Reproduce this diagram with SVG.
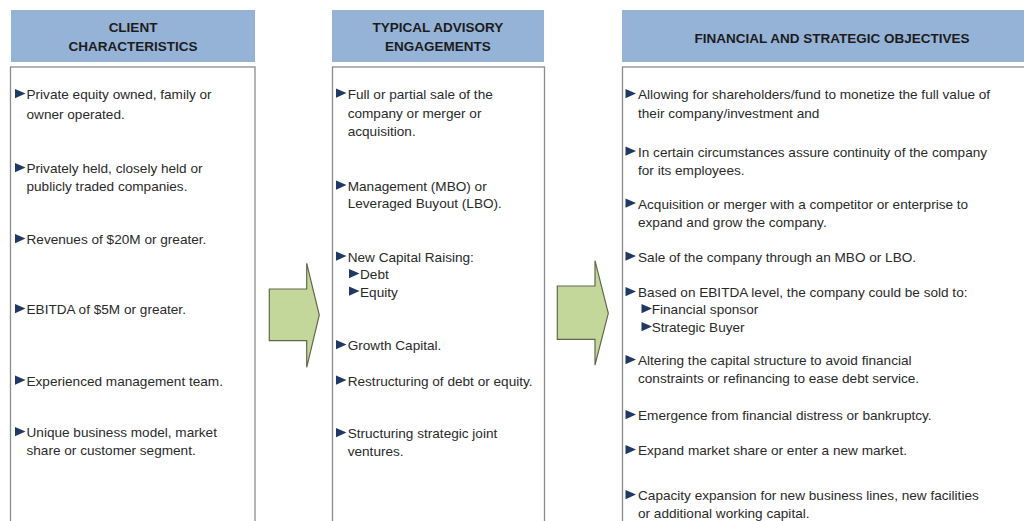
<svg xmlns="http://www.w3.org/2000/svg" xmlns:xlink="http://www.w3.org/1999/xlink" width="1024" height="521" viewBox="0 0 1024 521">
  <style>
    .hdr { fill: #95b3d7; }
    .body { fill: #ffffff; stroke: #8c8c8c; stroke-width: 1.3; }
    .ht { font-family: "Liberation Sans", Arial, sans-serif; font-size: 13.5px; font-weight: bold; fill: #1c1c1c; text-anchor: middle; }
    .t { font-family: "Liberation Sans", Arial, sans-serif; font-size: 13.6px; fill: #2a2a2a; }
    .arrow { fill: #c4d79b; stroke: #66664f; stroke-width: 1.2; stroke-linejoin: miter; }
  </style>
  <defs>
    <path id="b" d="M0,0 L10.5,4.6 L0,9.2 Z" fill="#1f3864"/>
  </defs>

  <rect width="1024" height="521" fill="#ffffff"/>

  <!-- Column 1: client characteristics -->
  <g id="client-characteristics">
    <rect class="hdr" x="11" y="10" width="244" height="52"/>
    <text class="ht" x="133" y="32">CLIENT</text>
    <text class="ht" x="133" y="50.5">CHARACTERISTICS</text>
    <rect class="body" x="10.5" y="67" width="244.5" height="470"/>
    <use xlink:href="#b" x="15" y="89"/>
    <text class="t" x="26.5" y="99.3">Private equity owned, family or</text>
    <text class="t" x="26.5" y="119">owner operated.</text>
    <use xlink:href="#b" x="15" y="163"/>
    <text class="t" x="26.5" y="173.3">Privately held, closely held or</text>
    <text class="t" x="26.5" y="191">publicly traded companies.</text>
    <use xlink:href="#b" x="15" y="234"/>
    <text class="t" x="26.5" y="244.3">Revenues of $20M or greater.</text>
    <use xlink:href="#b" x="15" y="304"/>
    <text class="t" x="26.5" y="314.3">EBITDA of $5M or greater.</text>
    <use xlink:href="#b" x="15" y="375.5"/>
    <text class="t" x="26.5" y="385.5">Experienced management team.</text>
    <use xlink:href="#b" x="15" y="427"/>
    <text class="t" x="26.5" y="437.3">Unique business model, market</text>
    <text class="t" x="26.5" y="455.3">share or customer segment.</text>
  </g>

  <!-- Column 2: typical advisory engagements -->
  <g id="advisory-engagements">
    <rect class="hdr" x="332" y="10" width="212" height="52"/>
    <text class="ht" x="438" y="32">TYPICAL ADVISORY</text>
    <text class="ht" x="438" y="50.5">ENGAGEMENTS</text>
    <rect class="body" x="332.5" y="67" width="212" height="470"/>
    <use xlink:href="#b" x="336" y="88.5"/>
    <text class="t" x="347.7" y="99">Full or partial sale of the</text>
    <text class="t" x="347.7" y="117.5">company or merger or</text>
    <text class="t" x="347.7" y="135.5">acquisition.</text>
    <use xlink:href="#b" x="336" y="180.5"/>
    <text class="t" x="347.7" y="190.7">Management (MBO) or</text>
    <text class="t" x="347.7" y="208.3">Leveraged Buyout (LBO).</text>
    <use xlink:href="#b" x="336" y="251.5"/>
    <text class="t" x="347.7" y="261.7">New Capital Raising:</text>
    <use xlink:href="#b" x="349" y="269"/>
    <text class="t" x="360" y="279.3">Debt</text>
    <use xlink:href="#b" x="349" y="286.5"/>
    <text class="t" x="360" y="296.7">Equity</text>
    <use xlink:href="#b" x="336" y="340"/>
    <text class="t" x="347.7" y="350">Growth Capital.</text>
    <use xlink:href="#b" x="336" y="375.5"/>
    <text class="t" x="347.7" y="385.7">Restructuring of debt or equity.</text>
    <use xlink:href="#b" x="336" y="428"/>
    <text class="t" x="347.7" y="438.3">Structuring strategic joint</text>
    <text class="t" x="347.7" y="456">ventures.</text>
  </g>

  <!-- Column 3: financial and strategic objectives -->
  <g id="strategic-objectives">
    <rect class="hdr" x="622" y="10" width="420" height="52"/>
    <text class="ht" x="832" y="42.5">FINANCIAL AND STRATEGIC OBJECTIVES</text>
    <rect class="body" x="622.5" y="67" width="420" height="470" stroke-width="2"/>
    <use xlink:href="#b" x="625.5" y="89"/>
    <text class="t" x="638" y="99.3">Allowing for shareholders/fund to monetize the full value of</text>
    <text class="t" x="638" y="118.3">their company/investment and</text>
    <use xlink:href="#b" x="625.5" y="146.5"/>
    <text class="t" x="638" y="157">In certain circumstances assure continuity of the company</text>
    <text class="t" x="638" y="174.5">for its employees.</text>
    <use xlink:href="#b" x="625.5" y="198.5"/>
    <text class="t" x="638" y="209">Acquisition or merger with a competitor or enterprise to</text>
    <text class="t" x="638" y="227">expand and grow the company.</text>
    <use xlink:href="#b" x="625.5" y="251.5"/>
    <text class="t" x="638" y="262">Sale of the company through an MBO or LBO.</text>
    <use xlink:href="#b" x="625.5" y="287"/>
    <text class="t" x="638" y="297.3">Based on EBITDA level, the company could be sold to:</text>
    <use xlink:href="#b" x="641.5" y="304"/>
    <text class="t" x="651.7" y="314.3">Financial sponsor</text>
    <use xlink:href="#b" x="641.5" y="322"/>
    <text class="t" x="651.7" y="332.3">Strategic Buyer</text>
    <use xlink:href="#b" x="625.5" y="355"/>
    <text class="t" x="638" y="365">Altering the capital structure to avoid financial</text>
    <text class="t" x="638" y="382.7">constraints or refinancing to ease debt service.</text>
    <use xlink:href="#b" x="625.5" y="410"/>
    <text class="t" x="638" y="420">Emergence from financial distress or bankruptcy.</text>
    <use xlink:href="#b" x="625.5" y="445"/>
    <text class="t" x="638" y="455">Expand market share or enter a new market.</text>
    <use xlink:href="#b" x="625.5" y="490"/>
    <text class="t" x="638" y="500">Capacity expansion for new business lines, new facilities</text>
    <text class="t" x="638" y="518.3">or additional working capital.</text>
  </g>

  <!-- Block arrows between the columns -->
  <g id="connectors">
    <polygon class="arrow" points="269.3,289 306.7,289 306.7,263.3 319.3,315 306.7,367.3 306.7,340.7 269.3,340.7"/>
    <polygon class="arrow" points="557.3,286 595,286 595,260.7 608.3,313.3 595,365 595,339.3 557.3,339.3"/>
  </g>
</svg>
